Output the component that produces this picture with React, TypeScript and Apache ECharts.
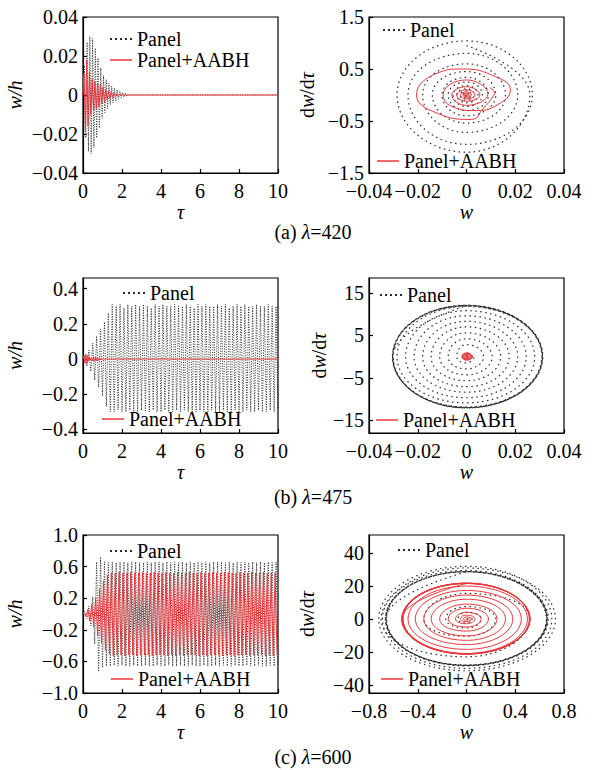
import React, { useEffect, useRef } from 'react';
import * as echarts from 'echarts';

// ---------- tick values ----------
const ticksTau = [0, 2, 4, 6, 8, 10];
const ticksA_y = [-0.04, -0.02, 0, 0.02, 0.04];
const ticksW_small = [-0.04, -0.02, 0, 0.02, 0.04];
const ticksA_dw = [-1.5, -0.5, 0.5, 1.5];
const ticksB_y = [-0.4, -0.2, 0, 0.2, 0.4];
const ticksB_dw = [-15, -5, 5, 15];
const ticksC_y = [-1.0, -0.6, -0.2, 0.2, 0.6, 1.0];
const ticksC_w = [-0.8, -0.4, 0, 0.4, 0.8];
const ticksC_dw = [-40, -20, 0, 20, 40];

// ---------- captions ----------
const captionLabels = ['(a)', '(b)', '(c)'];
const lambdas = [420, 475, 600];

// ---------- (a) lambda = 420, time histories [tau, w/h] ----------
const panelA = [
  [0, 0], [0.07, 0.015], [0.14, -0.022], [0.21, 0.027], [0.28, -0.029], [0.35, 0.030], [0.42, -0.030],
  [0.49, 0.029], [0.56, -0.027], [0.63, 0.024], [0.70, -0.022], [0.77, 0.019], [0.84, -0.017],
  [0.91, 0.014], [0.98, -0.012], [1.05, 0.010], [1.12, -0.009], [1.19, 0.008], [1.26, -0.007],
  [1.33, 0.006], [1.40, -0.005], [1.47, 0.0045], [1.54, -0.004], [1.61, 0.0035], [1.68, -0.003],
  [1.75, 0.0026], [1.82, -0.0022], [1.89, 0.0019], [1.96, -0.0016], [2.03, 0.0013], [2.10, -0.0011],
  [2.17, 0.0009], [2.24, -0.0007], [2.31, 0.0005], [2.38, -0.0004], [2.45, 0.0003], [2.52, -0.0002],
  [2.6, 0], [10, 0],
];
const aabhA = [
  [0, 0], [0.05, 0.011], [0.12, -0.019], [0.19, 0.018], [0.26, -0.016], [0.33, 0.012], [0.40, -0.010],
  [0.47, 0.008], [0.54, -0.008], [0.61, 0.007], [0.68, -0.007], [0.75, 0.006], [0.82, -0.006],
  [0.89, 0.005], [0.96, -0.0045], [1.03, 0.004], [1.10, -0.0035], [1.17, 0.003], [1.24, -0.0026],
  [1.31, 0.0022], [1.38, -0.0018], [1.45, 0.0015], [1.52, -0.0012], [1.59, 0.001], [1.66, -0.0008],
  [1.73, 0.0006], [1.8, -0.0004], [1.87, 0.0002], [1.95, 0], [10, 0],
];

// ---------- (a) phase portraits [w, dw/dtau] ----------
const panelAPhase = [
  [0, 0.95], [0.026, 0], [0, -1.1], [-0.0285, 0],
  [0, 1.04], [0.027, 0], [0, -0.95], [-0.024, 0],
  [0, 0.8], [0.021, 0], [0, -0.72], [-0.018, 0],
  [0, 0.6], [0.016, 0], [0, -0.54], [-0.014, 0],
  [0, 0.45], [0.012, 0], [0, -0.4], [-0.010, 0],
  [0, 0.34], [0.009, 0], [0, -0.3], [-0.0075, 0],
  [0, 0.25], [0.0065, 0], [0, -0.22], [-0.0055, 0],
  [0, 0.18], [0.0047, 0], [0, -0.15], [-0.004, 0],
  [0, 0.12], [0.0032, 0], [0, -0.1], [-0.0026, 0],
  [0, 0.08], [0.002, 0], [0, -0.06], [-0.0015, 0],
  [0, 0.04], [0.001, 0], [0, -0.025], [-0.0006, 0], [0, 0],
];
const aabhAPhase = [
  [0.0095, 0.14], [0.0115, 0.05], [0.011, -0.02], [0.007, -0.25], [0.002, -0.47], [-0.012, -0.35],
  [-0.0205, 0], [-0.012, 0.42], [-0.002, 0.5], [0.012, 0.35], [0.018, 0.1], [0.014, -0.15],
  [0.004, -0.3], [-0.006, -0.22], [-0.0096, 0], [0, 0.29], [0.0088, 0.02], [0, -0.2],
  [-0.006, 0], [0, 0.16], [0.0055, 0], [0, -0.12], [-0.004, 0], [0, 0.1], [0.0035, 0],
  [0, -0.075], [-0.0025, 0], [0, 0.06], [0.002, 0], [0, -0.045], [-0.0015, 0], [0, 0.035],
  [0.0012, 0], [0, -0.025], [-0.0009, 0], [0, 0.02], [0.0007, 0], [0, -0.012], [-0.0004, 0],
  [0, 0.008], [0, 0],
];

// ---------- shared time grids for (b) and (c) ----------
const tauGrid = [
  0, 0.1, 0.2, 0.3, 0.4, 0.5, 0.6, 0.7, 0.8, 0.9,
  1, 1.1, 1.2, 1.3, 1.4, 1.5, 1.6, 1.7, 1.8, 1.9,
  2, 2.1, 2.2, 2.3, 2.4, 2.5, 2.6, 2.7, 2.8, 2.9,
  3, 3.1, 3.2, 3.3, 3.4, 3.5, 3.6, 3.7, 3.8, 3.9,
  4, 4.1, 4.2, 4.3, 4.4, 4.5, 4.6, 4.7, 4.8, 4.9,
  5, 5.1, 5.2, 5.3, 5.4, 5.5, 5.6, 5.7, 5.8, 5.9,
  6, 6.1, 6.2, 6.3, 6.4, 6.5, 6.6, 6.7, 6.8, 6.9,
  7, 7.1, 7.2, 7.3, 7.4, 7.5, 7.6, 7.7, 7.8, 7.9,
  8, 8.1, 8.2, 8.3, 8.4, 8.5, 8.6, 8.7, 8.8, 8.9,
  9, 9.1, 9.2, 9.3, 9.4, 9.5, 9.6, 9.7, 9.8, 9.9,
  10,
];
const tauGridShift = [
  0,
  0.05, 0.15, 0.25, 0.35, 0.45, 0.55, 0.65, 0.75, 0.85, 0.95,
  1.05, 1.15, 1.25, 1.35, 1.45, 1.55, 1.65, 1.75, 1.85, 1.95,
  2.05, 2.15, 2.25, 2.35, 2.45, 2.55, 2.65, 2.75, 2.85, 2.95,
  3.05, 3.15, 3.25, 3.35, 3.45, 3.55, 3.65, 3.75, 3.85, 3.95,
  4.05, 4.15, 4.25, 4.35, 4.45, 4.55, 4.65, 4.75, 4.85, 4.95,
  5.05, 5.15, 5.25, 5.35, 5.45, 5.55, 5.65, 5.75, 5.85, 5.95,
  6.05, 6.15, 6.25, 6.35, 6.45, 6.55, 6.65, 6.75, 6.85, 6.95,
  7.05, 7.15, 7.25, 7.35, 7.45, 7.55, 7.65, 7.75, 7.85, 7.95,
  8.05, 8.15, 8.25, 8.35, 8.45, 8.55, 8.65, 8.75, 8.85, 8.95,
  9.05, 9.15, 9.25, 9.35, 9.45, 9.55, 9.65, 9.75, 9.85, 9.95,
];

// ---------- (b) lambda = 475 ----------
const panelB = [
  0, 0.02, -0.04, 0.05, -0.07, 0.09, -0.12, 0.13, -0.16, 0.17,
  -0.21, 0.21, -0.27, 0.26, -0.30, 0.31, -0.30, 0.30, -0.29, 0.31,
  -0.30, 0.29, -0.30, 0.31, -0.29, 0.30, -0.30, 0.31, -0.30, 0.30,
  -0.29, 0.31, -0.30, 0.30, -0.30, 0.29, -0.29, 0.31, -0.30, 0.30,
  -0.30, 0.31, -0.29, 0.30, -0.30, 0.30, -0.30, 0.31, -0.29, 0.30,
  -0.30, 0.30, -0.29, 0.31, -0.30, 0.30, -0.30, 0.29, -0.30, 0.31,
  -0.29, 0.30, -0.30, 0.31, -0.30, 0.30, -0.29, 0.30, -0.30, 0.31,
  -0.30, 0.30, -0.29, 0.31, -0.30, 0.29, -0.30, 0.30, -0.29, 0.31,
  -0.30, 0.30, -0.30, 0.31, -0.29, 0.30, -0.30, 0.30, -0.30, 0.31,
  -0.29, 0.30, -0.30, 0.30, -0.30, 0.31, -0.29, 0.30, -0.30, 0.30,
  -0.29,
];
const aabhB = [
  [0, 0], [0.05, 0.02], [0.1, -0.025], [0.15, 0.028], [0.2, -0.024], [0.25, 0.02], [0.3, -0.012],
  [0.35, 0.008], [0.4, -0.006], [0.45, 0.006], [0.5, -0.01], [0.55, 0.012], [0.6, -0.012],
  [0.65, 0.011], [0.7, -0.01], [0.75, 0.009], [0.8, -0.008], [0.85, 0.007], [0.9, -0.006],
  [0.95, 0.005], [1.0, -0.004], [1.05, 0.003], [1.1, -0.002], [1.2, 0.001], [1.3, 0], [10, 0],
];
const panelBPhase = [
  [0, 0], [0.0035, 0], [0, -1.5], [-0.004, 0], [0, 2.8],
  [0.007, 0], [0, -2.9], [-0.0075, 0], [0, 4.2],
  [0.0105, 0], [0, -4.3], [-0.011, 0], [0, 5.6],
  [0.014, 0], [0, -5.7], [-0.0145, 0], [0, 7.0],
  [0.0175, 0], [0, -7.1], [-0.018, 0], [0, 8.3],
  [0.021, 0], [0, -8.4], [-0.0215, 0], [0, 9.6],
  [0.0245, 0], [0, -9.7], [-0.025, 0], [0, 10.8],
  [0.028, 0], [0, -10.9], [-0.0285, 0], [0, 11.8],
  [0.0312, 0], [0, -12.1], [-0.0302, 0], [0, 12.0],
  [0.0309, 0], [0, -11.9], [-0.0304, 0], [0, 12.1],
  [0.0313, 0], [0, -12.0], [-0.0301, 0], [0, 11.9],
  [0.031, 0], [0, -12.1], [-0.0303, 0], [0, 12.0],
  [0.0311, 0], [0, -11.95], [-0.0302, 0], [0, 12.05],
  [0.0312, 0], [0, -12.0], [-0.0303, 0], [0, 12.0],
];
const aabhBPhase = [
  [0, 1.0], [0.0025, 0], [0, -0.85], [-0.0019, 0], [0, 0.85], [0.0023, 0], [0, -0.75],
  [-0.0017, 0], [0, 0.7], [0.002, 0], [0, -0.62], [-0.0015, 0], [0, 0.55], [0.0017, 0],
  [0, -0.5], [-0.0012, 0], [0, 0.42], [0.0013, 0], [0, -0.36], [-0.0009, 0], [0, 0.28],
  [0.0009, 0], [0, -0.2], [-0.0005, 0], [0, 0.12], [0.0004, 0], [0, -0.06], [0, 0],
];

// ---------- (c) lambda = 600 ----------
const panelC = [
  0, 0.03, -0.06, 0.10, -0.15, 0.22, -0.38, 0.66, -0.73, 0.72,
  -0.68, 0.66, -0.66, 0.65, -0.66, 0.66, -0.65, 0.65, -0.66, 0.66,
  -0.65, 0.66, -0.66, 0.65, -0.66, 0.66, -0.65, 0.66, -0.66, 0.65,
  -0.66, 0.65, -0.65, 0.66, -0.66, 0.65, -0.66, 0.66, -0.65, 0.66,
  -0.66, 0.65, -0.66, 0.66, -0.65, 0.65, -0.66, 0.66, -0.66, 0.65,
  -0.65, 0.66, -0.66, 0.65, -0.66, 0.66, -0.65, 0.65, -0.66, 0.66,
  -0.66, 0.65, -0.65, 0.66, -0.66, 0.65, -0.66, 0.66, -0.65, 0.66,
  -0.66, 0.66, -0.65, 0.65, -0.66, 0.66, -0.66, 0.65, -0.65, 0.66,
  -0.66, 0.65, -0.66, 0.66, -0.65, 0.65, -0.66, 0.66, -0.66, 0.65,
  -0.65, 0.66, -0.66, 0.65, -0.66, 0.66, -0.65, 0.65, -0.66, 0.66,
  -0.65,
];
const aabhC = [
  0,
  0.01, -0.03, 0.06, -0.09, 0.12, -0.16, 0.21, -0.27, 0.32, -0.37,
  0.42, -0.46, 0.49, -0.51, 0.52, -0.53, 0.52, -0.52, 0.53, -0.52,
  0.52, -0.53, 0.52, -0.52, 0.53, -0.52, 0.52, -0.53, 0.52, -0.52,
  0.53, -0.52, 0.52, -0.52, 0.52, -0.53, 0.53, -0.52, 0.52, -0.52,
  0.52, -0.52, 0.53, -0.53, 0.52, -0.52, 0.52, -0.53, 0.53, -0.52,
  0.52, -0.53, 0.52, -0.52, 0.53, -0.52, 0.52, -0.52, 0.52, -0.53,
  0.53, -0.52, 0.52, -0.53, 0.52, -0.52, 0.53, -0.52, 0.52, -0.52,
  0.52, -0.53, 0.53, -0.52, 0.52, -0.52, 0.52, -0.53, 0.52, -0.52,
  0.53, -0.52, 0.52, -0.52, 0.52, -0.53, 0.53, -0.52, 0.52, -0.52,
  0.52, -0.52, 0.53, -0.53, 0.52, -0.52, 0.52, -0.53, 0.52, -0.52,
];
const panelCPhase = [
  [0, 0], [0.05, 0], [0, -2.5], [-0.07, 0], [0, 4],
  [0.12, 0], [0, -5.5], [-0.17, 0], [0, 7.5],
  [0.24, 0], [0, -10.5], [-0.35, 0], [0, 15.5],
  [0.52, 0], [0, -23], [-0.7, 0], [0, 31],
  [0.73, 0], [0, -31.5], [-0.72, 0], [0, 32],
  [0.7, 0], [0, -30], [-0.69, 0], [0, 29.5],
  [0.67, 0], [0, -28.5], [-0.665, 0], [0, 28.8],
  [0.66, 0], [0, -28.2], [-0.66, 0], [0, 28.7],
  [0.655, 0], [0, -28.0], [-0.665, 0], [0, 28.6],
  [0.66, 0], [0, -28.3], [-0.655, 0], [0, 28.8],
  [0.665, 0], [0, -28.1], [-0.66, 0], [0, 28.7],
  [0.658, 0], [0, -28.2], [-0.662, 0], [0, 28.6],
];
const aabhCPhase = [
  [0, 0], [0.02, 0], [0, -0.8], [-0.025, 0], [0, 1.2],
  [0.04, 0], [0, -1.6], [-0.05, 0], [0, 2.3],
  [0.07, 0], [0, -2.9], [-0.09, 0], [0, 4],
  [0.12, 0], [0, -4.9], [-0.15, 0], [0, 6.5],
  [0.18, 0], [0, -7.4], [-0.22, 0], [0, 9],
  [0.25, 0], [0, -10.3], [-0.29, 0], [0, 12],
  [0.32, 0], [0, -13], [-0.35, 0], [0, 14.5],
  [0.38, 0], [0, -15.6], [-0.42, 0], [0, 17.3],
  [0.45, 0], [0, -18.5], [-0.48, 0], [0, 20],
  [0.5, 0], [0, -21], [-0.52, 0], [0, 21.5],
  [0.52, 0], [0, -21.3], [-0.53, 0], [0, 21.7],
  [0.515, 0], [0, -21.2], [-0.525, 0], [0, 21.6],
  [0.52, 0], [0, -21.4], [-0.53, 0], [0, 21.8],
  [0.518, 0], [0, -21.3], [-0.528, 0], [0, 21.7],
  [0.522, 0], [0, -21.2], [-0.532, 0], [0, 21.6],
];

// ---------- styling ----------
const FONT = '"Liberation Serif", "Times New Roman", Times, serif';
const BLACK = '#2a2a2a';
const RED = '#e8383d';
const ICON_DOTS = 'path://M0,0h2v2h-2zM5,0h2v2h-2zM10,0h2v2h-2zM15,0h2v2h-2zM20,0h2v2h-2z';
const ICON_LINE = 'path://M0,0h22v1.5h-22z';

const fmt = (dec: number) => (v: number) => {
  if (Math.abs(v) < 1e-9) return '0';
  const s = Math.abs(v).toFixed(dec);
  return v < 0 ? '\u2212' + s : s;
};

const gridBoxes = [
  { left: 83, top: 17, width: 195, height: 156 },
  { left: 369, top: 17, width: 195, height: 156 },
  { left: 83, top: 278, width: 195, height: 155 },
  { left: 369, top: 278, width: 195, height: 155 },
  { left: 83, top: 535, width: 195, height: 158 },
  { left: 369, top: 535, width: 195, height: 158 },
];

function axis(gridIndex: number, min: number, max: number, ticks: number[], dec: number, name: string, nameGap: number, isY: boolean, rich = false) {
  const nameTextStyle: any = { fontFamily: FONT, fontSize: 20, color: '#000', fontStyle: rich ? 'normal' : 'italic' };
  if (rich) {
    nameTextStyle.rich = {
      r: { fontFamily: FONT, fontSize: 20, fontStyle: 'normal', color: '#000' },
      i: { fontFamily: FONT, fontSize: 20, fontStyle: 'italic', color: '#000' },
    };
  }
  return {
    type: 'value',
    gridIndex,
    min,
    max,
    name,
    nameLocation: 'middle',
    nameGap,
    nameTextStyle,
    axisLine: { show: true, onZero: false, lineStyle: { color: '#000', width: 1.2 } },
    axisTick: { show: true, inside: true, length: 4, customValues: ticks, lineStyle: { color: '#000', width: 1.2 } },
    axisLabel: {
      customValues: ticks,
      formatter: fmt(dec),
      fontFamily: FONT,
      fontSize: 20,
      lineHeight: 16,
      color: '#000',
      margin: isY ? 5 : 10,
      showMinLabel: true,
      showMaxLabel: true,
      hideOverlap: false,
    },
    splitLine: { show: false },
  };
}

const dwName = '{r|d}{i|w}{r|/d}{i|\u03c4}';

function line(name: string, idx: number, data: number[][], color: string, dash: any, width: number, smooth: number | boolean) {
  return {
    type: 'line',
    name,
    xAxisIndex: idx,
    yAxisIndex: idx,
    data,
    showSymbol: false,
    symbol: 'none',
    smooth,
    silent: true,
    clip: true,
    lineStyle: { color, width, type: dash },
    itemStyle: { color },
  };
}

function legend(name: string, left: number, top: number) {
  const isPanel = name === 'Panel';
  return {
    data: [name],
    left,
    top,
    padding: 0,
    icon: isPanel ? ICON_DOTS : ICON_LINE,
    itemWidth: 22,
    itemHeight: isPanel ? 2 : 1.5,
    selectedMode: false,
    textStyle: { fontFamily: FONT, fontSize: 20, lineHeight: 18, color: '#000' },
  };
}

const captionY = [232, 497, 757];

export default function App() {
  const ref = useRef<HTMLDivElement>(null);
  useEffect(() => {
    document.body.style.margin = '0';
    const chart = echarts.init(ref.current!, undefined, { renderer: 'svg' });
    const zipB = tauGrid.map((t, i) => [t, panelB[i]]);
    const zipC = tauGrid.map((t, i) => [t, panelC[i]]);
    const zipC2 = tauGridShift.map((t, i) => [t, aabhC[i]]);
    const tsDash = [1, 1.5];
    const phDash = [1.5, 3.5];
    const option: any = {
      animation: false,
      backgroundColor: '#fff',
      grid: gridBoxes.map((g) => ({ ...g, show: true, borderColor: '#000', borderWidth: 1.2, backgroundColor: 'transparent' })),
      xAxis: [
        axis(0, 0, 10, ticksTau, 0, '\u03c4', 15, false),
        axis(1, -0.04, 0.04, ticksW_small, 2, 'w', 15, false),
        axis(2, 0, 10, ticksTau, 0, '\u03c4', 15, false),
        axis(3, -0.04, 0.04, ticksW_small, 2, 'w', 15, false),
        axis(4, 0, 10, ticksTau, 0, '\u03c4', 15, false),
        axis(5, -0.8, 0.8, ticksC_w, 1, 'w', 15, false),
      ],
      yAxis: [
        axis(0, -0.04, 0.04, ticksA_y, 2, 'w/h', 58, true),
        axis(1, -1.5, 1.5, ticksA_dw, 1, dwName, 52, true, true),
        axis(2, -0.42, 0.46, ticksB_y, 1, 'w/h', 58, true),
        axis(3, -18, 18.5, ticksB_dw, 0, dwName, 36, true, true),
        axis(4, -1.0, 1.0, ticksC_y, 1, 'w/h', 58, true),
        axis(5, -45, 51, ticksC_dw, 0, dwName, 52, true, true),
      ],
      legend: [
        legend('Panel', 110, 29),
        legend('Panel+AABH', 110, 50),
        legend('Panel', 383, 20),
        legend('Panel+AABH', 377, 151),
        legend('Panel', 123, 283),
        legend('Panel+AABH', 102, 409),
        legend('Panel', 380, 285),
        legend('Panel+AABH', 376, 410),
        legend('Panel', 110, 541),
        legend('Panel+AABH', 111, 669),
        legend('Panel', 398, 540),
        legend('Panel+AABH', 381, 669),
      ],
      series: [
        line('Panel', 0, panelA, BLACK, tsDash, 1, false),
        line('Panel+AABH', 0, aabhA, RED, 'solid', 1, false),
        line('Panel', 1, panelAPhase, BLACK, phDash, 1.2, 0.55),
        line('Panel+AABH', 1, aabhAPhase, RED, 'solid', 1, 0.5),
        line('Panel', 2, zipB, BLACK, tsDash, 1, false),
        line('Panel+AABH', 2, aabhB, RED, 'solid', 1, false),
        line('Panel', 3, panelBPhase, BLACK, phDash, 1.2, 0.55),
        line('Panel+AABH', 3, aabhBPhase, RED, 'solid', 1, 0.55),
        line('Panel', 4, zipC, BLACK, tsDash, 1, false),
        line('Panel+AABH', 4, zipC2, RED, 'solid', 1, false),
        line('Panel', 5, panelCPhase, BLACK, phDash, 1.2, 0.55),
        line('Panel+AABH', 5, aabhCPhase, RED, 'solid', 1, 0.55),
      ],
      graphic: captionLabels.map((c, i) => ({
        type: 'text',
        x: 313,
        y: captionY[i],
        style: {
          text: c + ' {i|\u03bb}=' + lambdas[i],
          rich: { i: { fontFamily: FONT, fontSize: 20, fontStyle: 'italic', fill: '#000' } },
          fontFamily: FONT,
          fontSize: 20,
          fill: '#000',
          align: 'center',
          verticalAlign: 'middle',
        },
      })),
    };
    chart.setOption(option);
    return () => chart.dispose();
  }, []);
  return <div ref={ref} style={{ position: 'absolute', left: 0, top: 0, width: 600, height: 770, background: '#fff' }} />;
}
